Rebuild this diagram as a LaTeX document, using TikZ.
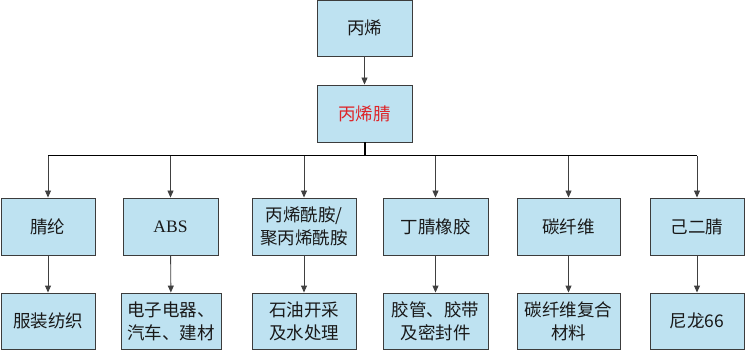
\documentclass[tikz,border=0pt]{standalone}
\usepackage{fontspec}
\setmainfont{Noto Sans CJK SC}
\newfontfamily\latinserif{Liberation Serif}
\usetikzlibrary{arrows.meta}
\definecolor{boxfill}{RGB}{190,226,241}
\definecolor{boxline}{RGB}{60,60,60}
\definecolor{redtxt}{RGB}{222,36,40}
\tikzset{
  box/.style={draw=boxline, line width=0.9pt, fill=boxfill, inner sep=0pt, align=center,
    font=\fontsize{17.5}{23}\selectfont, text=black!90},
  arr/.style={draw=black!75, line width=0.9pt, -{Triangle[length=7pt,width=6pt]}},
  bus/.style={draw=black, line width=1pt}
}
\begin{document}
\begin{tikzpicture}[x=1pt,y=-1pt]
\useasboundingbox (0,0) rectangle (745,350);
\node[box, minimum width=95, minimum height=56] (a) at (364.5,28) {丙烯};
\node[box, minimum width=95, minimum height=57, text=redtxt] (b) at (364.5,113.5) {丙烯腈};
% row 2
\node[box, minimum width=94, minimum height=57] (c1) at (48,226.5) {腈纶};
\node[box, minimum width=95, minimum height=57] (c2) at (170.5,226.5) {\latinserif ABS};
\node[box, minimum width=104, minimum height=57] (c3) at (304,226.5) {丙烯酰胺/\\聚丙烯酰胺};
\node[box, minimum width=105, minimum height=57] (c4) at (435.5,226.5) {丁腈橡胶};
\node[box, minimum width=103, minimum height=57] (c5) at (568.5,226.5) {碳纤维};
\node[box, minimum width=94, minimum height=57] (c6) at (697,226.5) {己二腈};
% row 3
\node[box, minimum width=94, minimum height=56] (d1) at (48,321) {服装纺织};
\node[box, minimum width=100, minimum height=56] (d2) at (171,321) {电子电器、\\汽车、建材};
\node[box, minimum width=104, minimum height=56] (d3) at (304,321) {石油开采\\及水处理};
\node[box, minimum width=105, minimum height=56] (d4) at (435.5,321) {胶管、胶带\\及密封件};
\node[box, minimum width=103, minimum height=56] (d5) at (568.5,321) {碳纤维复合\\材料};
\node[box, minimum width=94, minimum height=56] (d6) at (697,321) {尼龙66};
% connectors
\coordinate (busL) at (48,156);
\coordinate (busR) at (697,156);
\coordinate (busM) at (364.5,156);
\draw[arr] (a) -- (b);
\draw[bus, line width=2pt] (b.south) -- (busM);
\draw[bus] (busL) -- (busR);
\foreach \i in {1,...,6}{
  \draw[arr] (c\i.north |- busM) -- (c\i.north);
  \draw[arr] (c\i) -- (d\i);
}
\end{tikzpicture}
\end{document}
